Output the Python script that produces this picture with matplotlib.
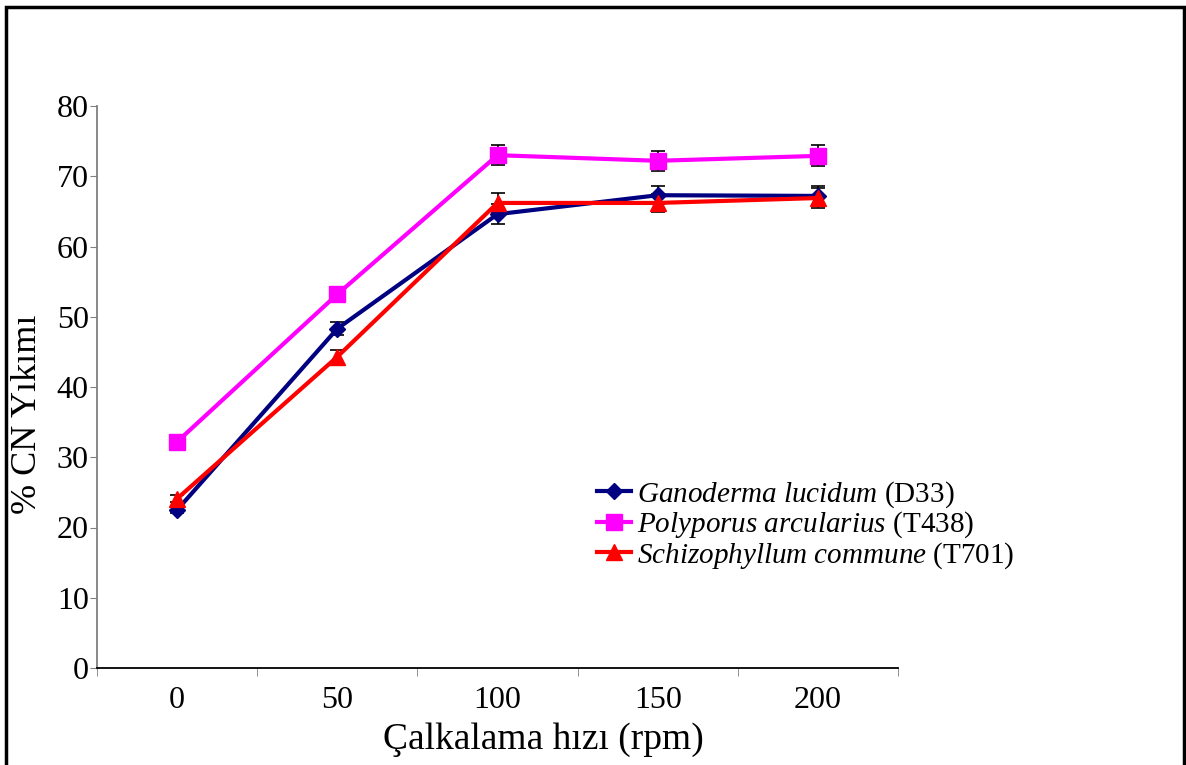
import matplotlib.pyplot as plt
from matplotlib.patches import Rectangle
import numpy as np

plt.rcParams['font.family'] = ['Liberation Serif', 'DejaVu Serif']
plt.rcParams['mathtext.fontset'] = 'custom'
plt.rcParams['mathtext.rm'] = 'Liberation Serif'
plt.rcParams['mathtext.it'] = 'Liberation Serif:italic'

# shaking speed (rpm) categories
speeds = ['0', '50', '100', '150', '200']

# % CN degradation per strain
ganoderma = [22.5, 48.3, 64.6, 67.3, 67.2]
ganoderma_err = [0.4, 0.95, 1.4, 1.3, 1.4]
polyporus = [32.2, 53.2, 73.0, 72.2, 72.9]
polyporus_err = [0.0, 1.05, 1.4, 1.45, 1.5]
schizo = [24.1, 44.3, 66.2, 66.2, 66.9]
schizo_err = [0.5, 0.9, 1.4, 1.3, 1.4]

fig = plt.figure(figsize=(11.86, 7.65), dpi=100)
ax = fig.add_axes([97/1186, 1-668/765, 801/1186, 562/765])

x = np.arange(len(speeds))
series = [
    (ganoderma, ganoderma_err, '#000080', 'D', 8, 'Ganoderma lucidum', 'D33'),
    (polyporus, polyporus_err, '#FF00FF', 's', 11, 'Polyporus arcularius', 'T438'),
    (schizo, schizo_err, '#FF0000', '^', 11, 'Schizophyllum commune', 'T701'),
]
for vals, err, col, mk, ms, name, code in series:
    ax.errorbar(x, vals, yerr=err, fmt='none', ecolor='black', elinewidth=1.2,
                capsize=5, capthick=1.2, zorder=2)
    ax.plot(x, vals, color=col, lw=3, marker=mk, ms=ms, mfc=col, mec=col,
            label=r'$\mathit{' + name.replace(' ', r'\ ') + '}$ (' + code + ')', zorder=3)

ax.set_xlim(-0.5, len(speeds) - 0.5)
ax.set_ylim(0, 80)
ax.set_yticks(np.arange(0, 81, 10))
ax.set_xticks(x)
ax.set_xticklabels(speeds)
ax.set_xticks(np.arange(-0.5, len(speeds), 1), minor=True)
ax.tick_params(axis='x', which='major', length=0, pad=13, labelsize=23)
ax.tick_params(axis='x', which='minor', length=6, color='#808080', direction='out')
ax.tick_params(axis='y', length=5, color='#808080', pad=1, labelsize=23)

for s in ['top', 'right']:
    ax.spines[s].set_visible(False)
ax.spines['left'].set_color('#808080')
ax.spines['left'].set_linewidth(1.3)
ax.spines['bottom'].set_color('black')
ax.spines['bottom'].set_linewidth(1.3)

leg = ax.legend(loc='upper left', bbox_to_anchor=(0.610, 0.357), frameon=False,
                fontsize=21, handlelength=1.15, handletextpad=0.2,
                labelspacing=0.0, borderaxespad=0)

fig.text(543/1186, 1-740/765, 'Çalkalama hızı (rpm)', ha='center', va='center',
         fontsize=27)
fig.text(28/1186, 1-414/765, '% CN Yıkımı', ha='center', va='center',
         rotation=90, fontsize=26)

# outer frame
fig.patches.append(Rectangle((6/1186, -0.05), 1178/1186, 1.05-7/765,
                             transform=fig.transFigure, fill=False,
                             edgecolor='black', lw=2.5))

fig.savefig('out.png', dpi=100)
